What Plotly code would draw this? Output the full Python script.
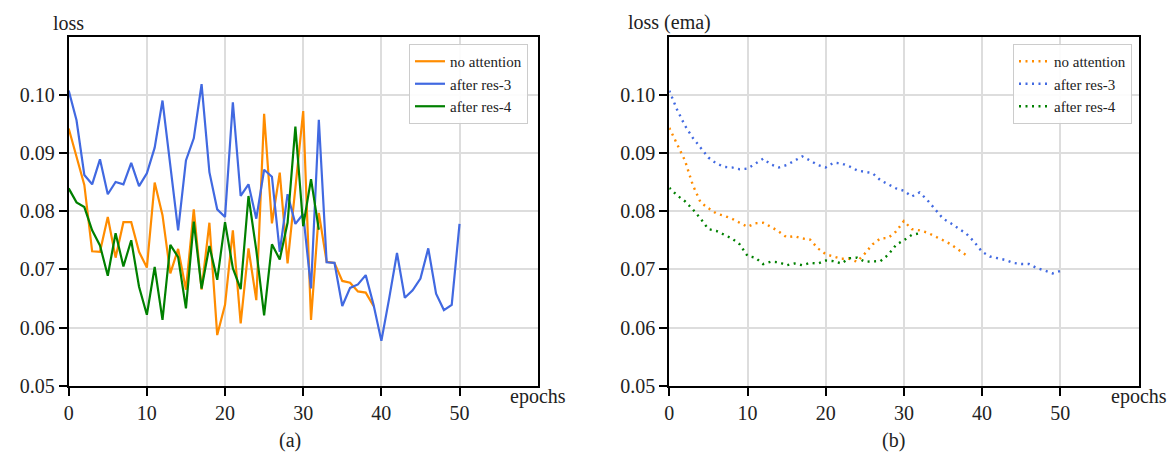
import plotly.graph_objects as go

# ---------------- data ----------------
epochs_full = list(range(0, 51))
epochs_no_att = list(range(0, 40))
epochs_res4 = list(range(0, 33))
epochs_no_att_ema = list(range(0, 39))

series_names = ["no attention", "after res-3", "after res-4"]

no_att_raw = [0.0942, 0.0893, 0.0845, 0.0731, 0.0730, 0.0790, 0.0720, 0.0781, 0.0781, 0.0730,
              0.0703, 0.0849, 0.0793, 0.0693, 0.0735, 0.0665, 0.0803, 0.0665, 0.0780, 0.0587,
              0.0639, 0.0767, 0.0607, 0.0736, 0.0647, 0.0967, 0.0779, 0.0866, 0.0710, 0.0840,
              0.0972, 0.0613, 0.0797, 0.0713, 0.0711, 0.0680, 0.0677, 0.0662, 0.0660, 0.0637]

res3_raw = [0.1007, 0.0956, 0.0862, 0.0846, 0.0889, 0.0829, 0.0850, 0.0846, 0.0883, 0.0843,
            0.0865, 0.0909, 0.0990, 0.0876, 0.0767, 0.0887, 0.0925, 0.1018, 0.0867, 0.0803,
            0.0790, 0.0987, 0.0826, 0.0846, 0.0787, 0.0871, 0.0859, 0.0730, 0.0829, 0.0778,
            0.0795, 0.0667, 0.0957, 0.0712, 0.0711, 0.0637, 0.0668, 0.0674, 0.0690, 0.0639,
            0.0577, 0.0650, 0.0728, 0.0651, 0.0664, 0.0684, 0.0736, 0.0658, 0.0630, 0.0639,
            0.0778]

res4_raw = [0.0839, 0.0815, 0.0807, 0.0767, 0.0741, 0.0689, 0.0762, 0.0705, 0.0750, 0.0670,
            0.0622, 0.0704, 0.0613, 0.0742, 0.0721, 0.0633, 0.0782, 0.0667, 0.0740, 0.0682,
            0.0781, 0.0702, 0.0666, 0.0826, 0.0733, 0.0621, 0.0743, 0.0717, 0.0780, 0.0945,
            0.0774, 0.0855, 0.0768]

no_att_ema = [0.0943, 0.0916, 0.0887, 0.0845, 0.0815, 0.0805, 0.0796, 0.0792, 0.0787, 0.0780,
              0.0773, 0.0779, 0.0780, 0.0773, 0.0765, 0.0755, 0.0757, 0.0753, 0.0751, 0.0736,
              0.0726, 0.0722, 0.0718, 0.0718, 0.0713, 0.0727, 0.0743, 0.0753, 0.0754, 0.0765,
              0.0783, 0.0769, 0.0767, 0.0763, 0.0757, 0.0750, 0.0743, 0.0734, 0.0724]

res3_ema = [0.1007, 0.0974, 0.0947, 0.0926, 0.0909, 0.0892, 0.0882, 0.0876, 0.0875, 0.0872,
            0.0873, 0.0882, 0.0890, 0.0880, 0.0875, 0.0879, 0.0887, 0.0894, 0.0887, 0.0879,
            0.0875, 0.0883, 0.0882, 0.0877, 0.0870, 0.0867, 0.0865, 0.0853, 0.0846, 0.0839,
            0.0835, 0.0825, 0.0832, 0.0819, 0.0803, 0.0787, 0.0779, 0.0770, 0.0761, 0.0747,
            0.0730, 0.0722, 0.0719, 0.0716, 0.0711, 0.0709, 0.0709, 0.0702, 0.0698, 0.0693,
            0.0697]

res4_ema = [0.0840, 0.0827, 0.0817, 0.0803, 0.0787, 0.0769, 0.0766, 0.0759, 0.0753, 0.0743,
            0.0723, 0.0720, 0.0709, 0.0713, 0.0712, 0.0707, 0.0710, 0.0707, 0.0711, 0.0710,
            0.0715, 0.0714, 0.0710, 0.0719, 0.0720, 0.0713, 0.0714, 0.0714, 0.0725, 0.0742,
            0.0750, 0.0759, 0.0762]

x_ticks = [0, 10, 20, 30, 40, 50]
y_ticks = [0.05, 0.06, 0.07, 0.08, 0.09, 0.10]
y_tick_labels = ["0.05", "0.06", "0.07", "0.08", "0.09", "0.10"]

colors = ["#FF8C00", "#4169E1", "#008000"]
FONT = "Liberation Serif"

W, H = 1170, 465

fig = go.Figure()

raw_sets = [(epochs_no_att, no_att_raw), (epochs_full, res3_raw), (epochs_res4, res4_raw)]
ema_sets = [(epochs_no_att_ema, no_att_ema), (epochs_full, res3_ema), (epochs_res4, res4_ema)]

for name, (xs, ys), c in zip(series_names, raw_sets, colors):
    fig.add_trace(go.Scatter(x=xs, y=ys, mode="lines", name=name,
                             line=dict(color=c, width=2.2),
                             xaxis="x", yaxis="y", legend="legend"))

for name, (xs, ys), c in zip(series_names, ema_sets, colors):
    fig.add_trace(go.Scatter(x=xs, y=ys, mode="lines", name=name,
                             line=dict(color=c, width=2.4, dash="2px,4.5px"),
                             xaxis="x2", yaxis="y2", legend="legend2"))

def px_x(p):
    return p / W

def px_y(p):
    return 1 - p / H

axis_common = dict(showline=True, linecolor="black", linewidth=2, mirror=True,
                   ticks="outside", ticklen=8, tickwidth=2, tickcolor="black",
                   showgrid=True, gridcolor="#dddddd", gridwidth=2, zeroline=False,
                   automargin=False,
                   tickfont=dict(family=FONT, size=20, color="#222222"))

xa = dict(axis_common, range=[0, 60], tickvals=x_ticks)
ya = dict(axis_common, range=[0.05, 0.11], tickvals=y_ticks, ticktext=y_tick_labels)

y_dom = [px_y(385.7), px_y(36.5)]

legend_common = dict(font=dict(family=FONT, size=15, color="#222222"),
                     bgcolor="rgba(255,255,255,0.9)", bordercolor="#cccccc", borderwidth=1,
                     xanchor="right", yanchor="top", itemwidth=30)

fig.update_layout(
    width=W, height=H,
    margin=dict(l=0, r=0, t=0, b=0),
    paper_bgcolor="white", plot_bgcolor="white",
    font=dict(family=FONT, size=20, color="#222222"),
    xaxis=dict(xa, domain=[px_x(68.7), px_x(537.7)], anchor="y"),
    yaxis=dict(ya, domain=y_dom, anchor="x"),
    xaxis2=dict(xa, domain=[px_x(669.3), px_x(1138.5)], anchor="y2"),
    yaxis2=dict(ya, domain=y_dom, anchor="x2"),
    legend=dict(legend_common, x=px_x(528), y=px_y(44)),
    legend2=dict(legend_common, x=px_x(1132), y=px_y(44)),
    showlegend=True,
)

ann = [
    dict(text="loss", x=px_x(68.7), y=px_y(23), xanchor="center", yanchor="middle"),
    dict(text="loss (ema)", x=px_x(669.3), y=px_y(23), xanchor="center", yanchor="middle"),
    dict(text="epochs", x=px_x(537.7), y=px_y(396), xanchor="center", yanchor="middle"),
    dict(text="epochs", x=px_x(1138.5), y=px_y(396), xanchor="center", yanchor="middle"),
    dict(text="(a)", x=px_x(290), y=px_y(440), xanchor="center", yanchor="middle"),
    dict(text="(b)", x=px_x(893), y=px_y(440), xanchor="center", yanchor="middle"),
]
for a in ann:
    fig.add_annotation(xref="paper", yref="paper", showarrow=False,
                       font=dict(family=FONT, size=20, color="#222222"), **a)

fig.write_html("out.html", config={"displayModeBar": False},
               post_script="document.body.style.margin='0px';document.body.style.padding='0px';")
